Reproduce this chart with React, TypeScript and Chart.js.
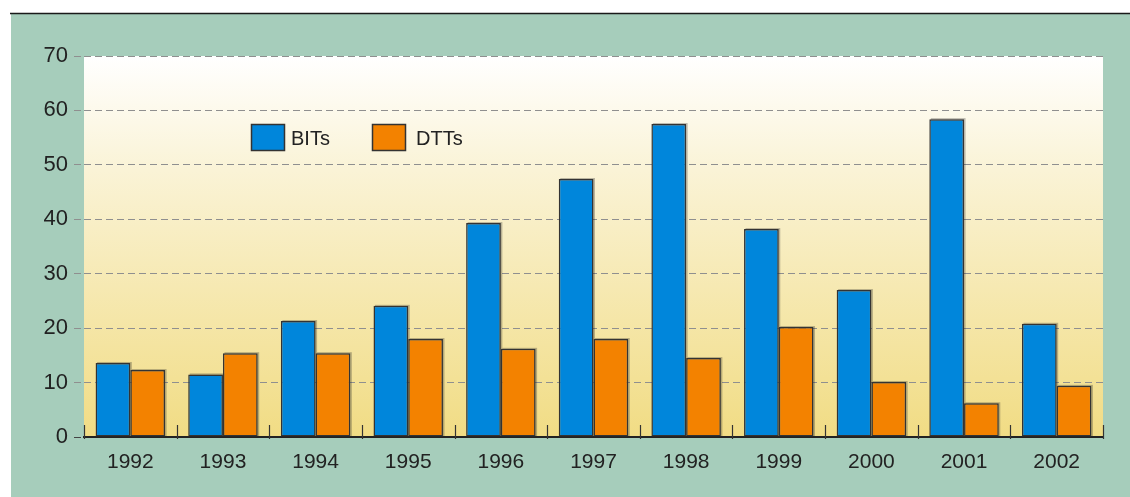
import { useEffect, useRef } from 'react';
import { Chart, registerables } from 'chart.js';

Chart.register(...registerables);

const years = ['1992', '1993', '1994', '1995', '1996', '1997', '1998', '1999', '2000', '2001', '2002'];
const bits = [13.6, 11.5, 21.3, 24.1, 39.3, 47.4, 57.5, 38.2, 27.0, 58.4, 20.8];
const dtts = [12.3, 15.4, 15.4, 18.0, 16.2, 18.0, 14.5, 20.2, 10.1, 6.2, 9.4];
const seriesLabels = ['BITs', 'DTTs'];
const seriesColors = ['#0086db', '#f38200'];
const yMin = 0;
const yMax = 70;
const yStep = 10;

const FONT = "'Liberation Sans', Arial, sans-serif";
const W = 1130;
const H = 497;

const backgroundPlugin = {
  id: 'bgPlugin',
  beforeDraw(chart: any) {
    const { ctx, chartArea } = chart;
    ctx.save();
    ctx.fillStyle = '#ffffff';
    ctx.fillRect(0, 0, W, H);
    ctx.fillStyle = '#a6cdbb';
    ctx.fillRect(11, 14, W - 11, H - 14);
    ctx.strokeStyle = '#1a1a1a';
    ctx.lineWidth = 1.5;
    ctx.beginPath();
    ctx.moveTo(10, 13.5);
    ctx.lineTo(W, 13.5);
    ctx.stroke();
    const g = ctx.createLinearGradient(0, chartArea.top, 0, chartArea.bottom);
    g.addColorStop(0, '#ffffff');
    g.addColorStop(0.3, '#faf3d6');
    g.addColorStop(1, '#f1dc84');
    ctx.fillStyle = g;
    ctx.fillRect(chartArea.left, chartArea.top, chartArea.right - chartArea.left, chartArea.bottom - chartArea.top);
    ctx.restore();
  },
};

const shadowPlugin = {
  id: 'shadowPlugin',
  beforeDatasetsDraw(chart: any) {
    const { ctx } = chart;
    ctx.save();
    ctx.fillStyle = 'rgba(40,40,40,0.3)';
    chart.data.datasets.forEach((_: any, di: number) => {
      const meta = chart.getDatasetMeta(di);
      meta.data.forEach((el: any) => {
        const left = el.x - el.width / 2;
        ctx.fillRect(left + 1.5, el.y - 1, el.width, el.base - el.y + 1);
      });
    });
    ctx.restore();
  },
};

const tickPlugin = {
  id: 'tickPlugin',
  afterDatasetsDraw(chart: any) {
    const { ctx, chartArea } = chart;
    const xs = chart.scales.x;
    const n = years.length;
    const pts: number[] = [chartArea.left];
    for (let i = 1; i < n; i++) {
      pts.push((xs.getPixelForValue(i - 1) + xs.getPixelForValue(i)) / 2);
    }
    pts.push(chartArea.right);
    ctx.save();
    ctx.strokeStyle = '#333333';
    ctx.lineWidth = 1.2;
    pts.forEach((p) => {
      const x = Math.round(p) + 0.5;
      ctx.beginPath();
      ctx.moveTo(x, chartArea.bottom - 12);
      ctx.lineTo(x, chartArea.bottom + 2);
      ctx.stroke();
    });
    ctx.restore();
  },
};

const legendPlugin = {
  id: 'customLegend',
  afterDraw(chart: any) {
    const { ctx } = chart;
    const boxX = [251, 372];
    const textX = [291, 416];
    ctx.save();
    chart.data.datasets.forEach((ds: any, i: number) => {
      ctx.fillStyle = ds.backgroundColor;
      ctx.fillRect(boxX[i], 124, 34, 27);
      ctx.strokeStyle = '#333333';
      ctx.lineWidth = 1.5;
      ctx.strokeRect(boxX[i] + 0.5, 124.5, 33, 26);
      ctx.fillStyle = '#222222';
      ctx.font = `20px ${FONT}`;
      ctx.textBaseline = 'middle';
      ctx.textAlign = 'left';
      ctx.fillText(ds.label, textX[i], 139);
    });
    ctx.restore();
  },
};

export default function App() {
  const ref = useRef<HTMLCanvasElement>(null);

  useEffect(() => {
    if (!ref.current) return;
    const chart = new Chart(ref.current, {
      type: 'bar',
      data: {
        labels: years,
        datasets: [
          {
            label: seriesLabels[0],
            data: bits,
            backgroundColor: seriesColors[0],
            borderColor: '#333333',
            borderWidth: 1.5,
            borderSkipped: false,
          },
          {
            label: seriesLabels[1],
            data: dtts,
            backgroundColor: seriesColors[1],
            borderColor: '#333333',
            borderWidth: 1.5,
            borderSkipped: false,
          },
        ],
      },
      options: {
        responsive: false,
        animation: false,
        devicePixelRatio: 1,
        layout: { padding: { top: 56, right: 27, left: 0, bottom: 0 } },
        datasets: { bar: { categoryPercentage: 0.75, barPercentage: 1.0 } },
        plugins: {
          legend: { display: false },
          tooltip: { enabled: false },
        },
        scales: {
          x: {
            grid: { display: false, drawTicks: false },
            border: { display: true, color: '#222222', width: 2 },
            ticks: { color: '#222222', font: { family: FONT, size: 21 }, padding: 13 },
            afterFit: (s: any) => {
              s.height = 60;
            },
          },
          y: {
            min: yMin,
            max: yMax,
            border: { display: false, dash: [7, 4] },
            grid: {
              color: (c: any) => (c.tick && c.tick.value === 0 ? 'rgba(0,0,0,0)' : '#8f8f8f'),
              lineWidth: 1,
              tickLength: 10,
              tickColor: (c: any) => (c.tick && c.tick.value === 0 ? '#444444' : '#8f8f8f'),
              tickBorderDash: [7, 4],
            },
            ticks: {
              stepSize: yStep,
              color: '#222222',
              font: { family: FONT, size: 22 },
              padding: 6,
            },
            afterFit: (s: any) => {
              s.width = 84;
            },
          },
        },
      },
      plugins: [backgroundPlugin, shadowPlugin, tickPlugin, legendPlugin],
    });
    return () => chart.destroy();
  }, []);

  return (
    <div style={{ position: 'fixed', left: 0, top: 0, width: W, height: H }}>
      <canvas ref={ref} width={W} height={H} style={{ width: W, height: H, display: 'block' }} />
    </div>
  );
}
